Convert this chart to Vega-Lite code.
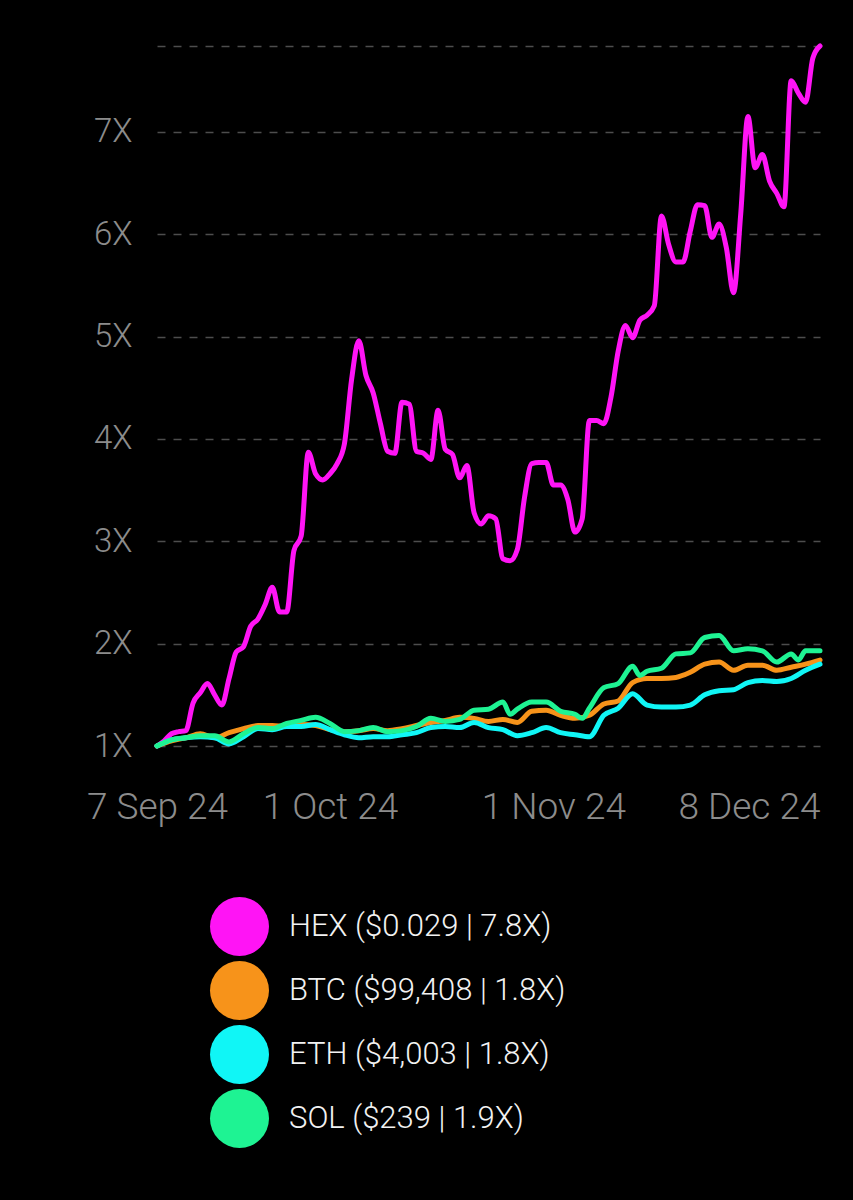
{
  "$schema": "https://vega.github.io/schema/vega-lite/v6.json",
  "autosize": {"type": "none"},
  "width": 663,
  "height": 700,
  "padding": {"left": 157, "top": 46, "right": 33, "bottom": 454},
  "background": "#000000",
  "config": {"view": {"stroke": null}, "font": "Roboto"},
  "data": {"values": [
    {"date":"2024-09-07T00:00","asset":"HEX","value":1.00},
    {"date":"2024-09-08T00:00","asset":"HEX","value":1.05},
    {"date":"2024-09-09T00:00","asset":"HEX","value":1.12},
    {"date":"2024-09-10T00:00","asset":"HEX","value":1.14},
    {"date":"2024-09-11T00:00","asset":"HEX","value":1.15},
    {"date":"2024-09-12T00:00","asset":"HEX","value":1.42},
    {"date":"2024-09-13T00:00","asset":"HEX","value":1.52},
    {"date":"2024-09-14T00:00","asset":"HEX","value":1.61},
    {"date":"2024-09-15T00:00","asset":"HEX","value":1.50},
    {"date":"2024-09-16T00:00","asset":"HEX","value":1.40},
    {"date":"2024-09-17T00:00","asset":"HEX","value":1.66},
    {"date":"2024-09-18T00:00","asset":"HEX","value":1.92},
    {"date":"2024-09-19T00:00","asset":"HEX","value":1.97},
    {"date":"2024-09-20T00:00","asset":"HEX","value":2.17},
    {"date":"2024-09-21T00:00","asset":"HEX","value":2.24},
    {"date":"2024-09-22T00:00","asset":"HEX","value":2.38},
    {"date":"2024-09-23T00:00","asset":"HEX","value":2.55},
    {"date":"2024-09-24T00:00","asset":"HEX","value":2.31},
    {"date":"2024-09-25T00:00","asset":"HEX","value":2.31},
    {"date":"2024-09-26T00:00","asset":"HEX","value":2.91},
    {"date":"2024-09-27T00:00","asset":"HEX","value":3.05},
    {"date":"2024-09-28T00:00","asset":"HEX","value":3.87},
    {"date":"2024-09-29T00:00","asset":"HEX","value":3.66},
    {"date":"2024-09-30T00:00","asset":"HEX","value":3.60},
    {"date":"2024-10-01T00:00","asset":"HEX","value":3.66},
    {"date":"2024-10-02T00:00","asset":"HEX","value":3.76},
    {"date":"2024-10-03T00:00","asset":"HEX","value":3.95},
    {"date":"2024-10-04T00:00","asset":"HEX","value":4.58},
    {"date":"2024-10-05T00:00","asset":"HEX","value":4.96},
    {"date":"2024-10-06T00:00","asset":"HEX","value":4.62},
    {"date":"2024-10-07T00:00","asset":"HEX","value":4.45},
    {"date":"2024-10-08T00:00","asset":"HEX","value":4.15},
    {"date":"2024-10-09T00:00","asset":"HEX","value":3.88},
    {"date":"2024-10-10T00:00","asset":"HEX","value":3.86},
    {"date":"2024-10-11T00:00","asset":"HEX","value":4.36},
    {"date":"2024-10-12T00:00","asset":"HEX","value":4.34},
    {"date":"2024-10-13T00:00","asset":"HEX","value":3.88},
    {"date":"2024-10-14T00:00","asset":"HEX","value":3.86},
    {"date":"2024-10-15T00:00","asset":"HEX","value":3.80},
    {"date":"2024-10-16T00:00","asset":"HEX","value":4.28},
    {"date":"2024-10-17T00:00","asset":"HEX","value":3.90},
    {"date":"2024-10-18T00:00","asset":"HEX","value":3.85},
    {"date":"2024-10-19T00:00","asset":"HEX","value":3.62},
    {"date":"2024-10-20T00:00","asset":"HEX","value":3.74},
    {"date":"2024-10-21T00:00","asset":"HEX","value":3.28},
    {"date":"2024-10-22T00:00","asset":"HEX","value":3.17},
    {"date":"2024-10-23T00:00","asset":"HEX","value":3.25},
    {"date":"2024-10-24T00:00","asset":"HEX","value":3.22},
    {"date":"2024-10-25T00:00","asset":"HEX","value":2.83},
    {"date":"2024-10-26T00:00","asset":"HEX","value":2.81},
    {"date":"2024-10-27T00:00","asset":"HEX","value":2.92},
    {"date":"2024-10-28T00:00","asset":"HEX","value":3.43},
    {"date":"2024-10-29T00:00","asset":"HEX","value":3.76},
    {"date":"2024-10-30T00:00","asset":"HEX","value":3.77},
    {"date":"2024-10-31T00:00","asset":"HEX","value":3.77},
    {"date":"2024-11-01T00:00","asset":"HEX","value":3.55},
    {"date":"2024-11-02T00:00","asset":"HEX","value":3.55},
    {"date":"2024-11-03T00:00","asset":"HEX","value":3.41},
    {"date":"2024-11-04T00:00","asset":"HEX","value":3.09},
    {"date":"2024-11-05T00:00","asset":"HEX","value":3.22},
    {"date":"2024-11-06T00:00","asset":"HEX","value":4.18},
    {"date":"2024-11-07T00:00","asset":"HEX","value":4.18},
    {"date":"2024-11-08T00:00","asset":"HEX","value":4.15},
    {"date":"2024-11-09T00:00","asset":"HEX","value":4.41},
    {"date":"2024-11-10T00:00","asset":"HEX","value":4.86},
    {"date":"2024-11-11T00:00","asset":"HEX","value":5.11},
    {"date":"2024-11-12T00:00","asset":"HEX","value":4.99},
    {"date":"2024-11-13T00:00","asset":"HEX","value":5.16},
    {"date":"2024-11-14T00:00","asset":"HEX","value":5.21},
    {"date":"2024-11-15T00:00","asset":"HEX","value":5.30},
    {"date":"2024-11-16T00:00","asset":"HEX","value":6.18},
    {"date":"2024-11-17T00:00","asset":"HEX","value":5.90},
    {"date":"2024-11-18T00:00","asset":"HEX","value":5.73},
    {"date":"2024-11-19T00:00","asset":"HEX","value":5.73},
    {"date":"2024-11-20T00:00","asset":"HEX","value":6.03},
    {"date":"2024-11-21T00:00","asset":"HEX","value":6.29},
    {"date":"2024-11-22T00:00","asset":"HEX","value":6.28},
    {"date":"2024-11-23T00:00","asset":"HEX","value":5.97},
    {"date":"2024-11-24T00:00","asset":"HEX","value":6.10},
    {"date":"2024-11-25T00:00","asset":"HEX","value":5.87},
    {"date":"2024-11-26T00:00","asset":"HEX","value":5.43},
    {"date":"2024-11-27T00:00","asset":"HEX","value":6.20},
    {"date":"2024-11-28T00:00","asset":"HEX","value":7.15},
    {"date":"2024-11-29T00:00","asset":"HEX","value":6.65},
    {"date":"2024-11-30T00:00","asset":"HEX","value":6.78},
    {"date":"2024-12-01T00:00","asset":"HEX","value":6.52},
    {"date":"2024-12-02T00:00","asset":"HEX","value":6.40},
    {"date":"2024-12-03T00:00","asset":"HEX","value":6.27},
    {"date":"2024-12-04T00:00","asset":"HEX","value":7.50},
    {"date":"2024-12-05T00:00","asset":"HEX","value":7.38},
    {"date":"2024-12-06T00:00","asset":"HEX","value":7.29},
    {"date":"2024-12-07T00:00","asset":"HEX","value":7.72},
    {"date":"2024-12-08T00:00","asset":"HEX","value":7.84},

    {"date":"2024-09-07T00:00","asset":"BTC","value":1.00},
    {"date":"2024-09-09T00:00","asset":"BTC","value":1.05},
    {"date":"2024-09-11T00:00","asset":"BTC","value":1.08},
    {"date":"2024-09-13T00:00","asset":"BTC","value":1.12},
    {"date":"2024-09-15T00:00","asset":"BTC","value":1.08},
    {"date":"2024-09-17T00:00","asset":"BTC","value":1.13},
    {"date":"2024-09-19T00:00","asset":"BTC","value":1.17},
    {"date":"2024-09-21T00:00","asset":"BTC","value":1.20},
    {"date":"2024-09-23T00:00","asset":"BTC","value":1.20},
    {"date":"2024-09-25T00:00","asset":"BTC","value":1.19},
    {"date":"2024-09-27T00:00","asset":"BTC","value":1.21},
    {"date":"2024-09-29T00:00","asset":"BTC","value":1.20},
    {"date":"2024-10-01T00:00","asset":"BTC","value":1.16},
    {"date":"2024-10-03T00:00","asset":"BTC","value":1.14},
    {"date":"2024-10-05T00:00","asset":"BTC","value":1.15},
    {"date":"2024-10-07T00:00","asset":"BTC","value":1.17},
    {"date":"2024-10-09T00:00","asset":"BTC","value":1.15},
    {"date":"2024-10-11T00:00","asset":"BTC","value":1.17},
    {"date":"2024-10-13T00:00","asset":"BTC","value":1.20},
    {"date":"2024-10-15T00:00","asset":"BTC","value":1.23},
    {"date":"2024-10-17T00:00","asset":"BTC","value":1.25},
    {"date":"2024-10-19T00:00","asset":"BTC","value":1.28},
    {"date":"2024-10-21T00:00","asset":"BTC","value":1.27},
    {"date":"2024-10-23T00:00","asset":"BTC","value":1.24},
    {"date":"2024-10-25T00:00","asset":"BTC","value":1.26},
    {"date":"2024-10-27T00:00","asset":"BTC","value":1.23},
    {"date":"2024-10-29T00:00","asset":"BTC","value":1.34},
    {"date":"2024-10-31T00:00","asset":"BTC","value":1.35},
    {"date":"2024-11-02T00:00","asset":"BTC","value":1.30},
    {"date":"2024-11-04T00:00","asset":"BTC","value":1.27},
    {"date":"2024-11-06T00:00","asset":"BTC","value":1.30},
    {"date":"2024-11-08T00:00","asset":"BTC","value":1.41},
    {"date":"2024-11-10T00:00","asset":"BTC","value":1.44},
    {"date":"2024-11-12T00:00","asset":"BTC","value":1.62},
    {"date":"2024-11-14T00:00","asset":"BTC","value":1.66},
    {"date":"2024-11-16T00:00","asset":"BTC","value":1.66},
    {"date":"2024-11-18T00:00","asset":"BTC","value":1.67},
    {"date":"2024-11-20T00:00","asset":"BTC","value":1.72},
    {"date":"2024-11-22T00:00","asset":"BTC","value":1.80},
    {"date":"2024-11-24T00:00","asset":"BTC","value":1.82},
    {"date":"2024-11-26T00:00","asset":"BTC","value":1.74},
    {"date":"2024-11-28T00:00","asset":"BTC","value":1.79},
    {"date":"2024-11-30T00:00","asset":"BTC","value":1.79},
    {"date":"2024-12-02T00:00","asset":"BTC","value":1.74},
    {"date":"2024-12-04T00:00","asset":"BTC","value":1.77},
    {"date":"2024-12-06T00:00","asset":"BTC","value":1.80},
    {"date":"2024-12-08T00:00","asset":"BTC","value":1.84},

    {"date":"2024-09-07T00:00","asset":"ETH","value":1.00},
    {"date":"2024-09-09T00:00","asset":"ETH","value":1.06},
    {"date":"2024-09-11T00:00","asset":"ETH","value":1.08},
    {"date":"2024-09-13T00:00","asset":"ETH","value":1.09},
    {"date":"2024-09-15T00:00","asset":"ETH","value":1.08},
    {"date":"2024-09-17T00:00","asset":"ETH","value":1.02},
    {"date":"2024-09-19T00:00","asset":"ETH","value":1.09},
    {"date":"2024-09-21T00:00","asset":"ETH","value":1.17},
    {"date":"2024-09-23T00:00","asset":"ETH","value":1.16},
    {"date":"2024-09-25T00:00","asset":"ETH","value":1.19},
    {"date":"2024-09-27T00:00","asset":"ETH","value":1.19},
    {"date":"2024-09-29T00:00","asset":"ETH","value":1.21},
    {"date":"2024-10-01T00:00","asset":"ETH","value":1.16},
    {"date":"2024-10-03T00:00","asset":"ETH","value":1.11},
    {"date":"2024-10-05T00:00","asset":"ETH","value":1.08},
    {"date":"2024-10-07T00:00","asset":"ETH","value":1.09},
    {"date":"2024-10-09T00:00","asset":"ETH","value":1.09},
    {"date":"2024-10-11T00:00","asset":"ETH","value":1.11},
    {"date":"2024-10-13T00:00","asset":"ETH","value":1.13},
    {"date":"2024-10-15T00:00","asset":"ETH","value":1.18},
    {"date":"2024-10-17T00:00","asset":"ETH","value":1.19},
    {"date":"2024-10-19T00:00","asset":"ETH","value":1.18},
    {"date":"2024-10-21T00:00","asset":"ETH","value":1.23},
    {"date":"2024-10-23T00:00","asset":"ETH","value":1.18},
    {"date":"2024-10-25T00:00","asset":"ETH","value":1.16},
    {"date":"2024-10-27T00:00","asset":"ETH","value":1.10},
    {"date":"2024-10-29T00:00","asset":"ETH","value":1.13},
    {"date":"2024-10-31T00:00","asset":"ETH","value":1.18},
    {"date":"2024-11-02T00:00","asset":"ETH","value":1.13},
    {"date":"2024-11-04T00:00","asset":"ETH","value":1.11},
    {"date":"2024-11-06T00:00","asset":"ETH","value":1.09},
    {"date":"2024-11-08T00:00","asset":"ETH","value":1.30},
    {"date":"2024-11-10T00:00","asset":"ETH","value":1.37},
    {"date":"2024-11-12T00:00","asset":"ETH","value":1.51},
    {"date":"2024-11-14T00:00","asset":"ETH","value":1.40},
    {"date":"2024-11-16T00:00","asset":"ETH","value":1.38},
    {"date":"2024-11-18T00:00","asset":"ETH","value":1.38},
    {"date":"2024-11-20T00:00","asset":"ETH","value":1.40},
    {"date":"2024-11-22T00:00","asset":"ETH","value":1.50},
    {"date":"2024-11-24T00:00","asset":"ETH","value":1.54},
    {"date":"2024-11-26T00:00","asset":"ETH","value":1.55},
    {"date":"2024-11-28T00:00","asset":"ETH","value":1.62},
    {"date":"2024-11-30T00:00","asset":"ETH","value":1.64},
    {"date":"2024-12-02T00:00","asset":"ETH","value":1.63},
    {"date":"2024-12-04T00:00","asset":"ETH","value":1.66},
    {"date":"2024-12-06T00:00","asset":"ETH","value":1.74},
    {"date":"2024-12-08T00:00","asset":"ETH","value":1.80},

    {"date":"2024-09-07T00:00","asset":"SOL","value":1.00},
    {"date":"2024-09-09T00:00","asset":"SOL","value":1.06},
    {"date":"2024-09-11T00:00","asset":"SOL","value":1.08},
    {"date":"2024-09-13T00:00","asset":"SOL","value":1.10},
    {"date":"2024-09-15T00:00","asset":"SOL","value":1.10},
    {"date":"2024-09-17T00:00","asset":"SOL","value":1.04},
    {"date":"2024-09-19T00:00","asset":"SOL","value":1.12},
    {"date":"2024-09-21T00:00","asset":"SOL","value":1.18},
    {"date":"2024-09-23T00:00","asset":"SOL","value":1.17},
    {"date":"2024-09-25T00:00","asset":"SOL","value":1.22},
    {"date":"2024-09-27T00:00","asset":"SOL","value":1.25},
    {"date":"2024-09-29T00:00","asset":"SOL","value":1.28},
    {"date":"2024-10-01T00:00","asset":"SOL","value":1.22},
    {"date":"2024-10-03T00:00","asset":"SOL","value":1.14},
    {"date":"2024-10-05T00:00","asset":"SOL","value":1.15},
    {"date":"2024-10-07T00:00","asset":"SOL","value":1.18},
    {"date":"2024-10-09T00:00","asset":"SOL","value":1.14},
    {"date":"2024-10-11T00:00","asset":"SOL","value":1.15},
    {"date":"2024-10-13T00:00","asset":"SOL","value":1.19},
    {"date":"2024-10-15T00:00","asset":"SOL","value":1.27},
    {"date":"2024-10-17T00:00","asset":"SOL","value":1.24},
    {"date":"2024-10-19T00:00","asset":"SOL","value":1.26},
    {"date":"2024-10-21T00:00","asset":"SOL","value":1.35},
    {"date":"2024-10-23T00:00","asset":"SOL","value":1.36},
    {"date":"2024-10-25T00:00","asset":"SOL","value":1.43},
    {"date":"2024-10-26T00:00","asset":"SOL","value":1.31},
    {"date":"2024-10-27T00:00","asset":"SOL","value":1.36},
    {"date":"2024-10-29T00:00","asset":"SOL","value":1.43},
    {"date":"2024-10-31T00:00","asset":"SOL","value":1.43},
    {"date":"2024-11-02T00:00","asset":"SOL","value":1.34},
    {"date":"2024-11-04T00:00","asset":"SOL","value":1.31},
    {"date":"2024-11-05T00:00","asset":"SOL","value":1.27},
    {"date":"2024-11-06T00:00","asset":"SOL","value":1.37},
    {"date":"2024-11-08T00:00","asset":"SOL","value":1.57},
    {"date":"2024-11-10T00:00","asset":"SOL","value":1.61},
    {"date":"2024-11-12T00:00","asset":"SOL","value":1.78},
    {"date":"2024-11-13T00:00","asset":"SOL","value":1.69},
    {"date":"2024-11-14T00:00","asset":"SOL","value":1.73},
    {"date":"2024-11-16T00:00","asset":"SOL","value":1.76},
    {"date":"2024-11-18T00:00","asset":"SOL","value":1.90},
    {"date":"2024-11-20T00:00","asset":"SOL","value":1.91},
    {"date":"2024-11-22T00:00","asset":"SOL","value":2.06},
    {"date":"2024-11-24T00:00","asset":"SOL","value":2.08},
    {"date":"2024-11-26T00:00","asset":"SOL","value":1.93},
    {"date":"2024-11-28T00:00","asset":"SOL","value":1.95},
    {"date":"2024-11-30T00:00","asset":"SOL","value":1.93},
    {"date":"2024-12-02T00:00","asset":"SOL","value":1.82},
    {"date":"2024-12-04T00:00","asset":"SOL","value":1.90},
    {"date":"2024-12-05T00:00","asset":"SOL","value":1.84},
    {"date":"2024-12-06T00:00","asset":"SOL","value":1.93},
    {"date":"2024-12-08T00:00","asset":"SOL","value":1.93}
  ]},
  "mark": {"type": "line", "interpolate": "monotone", "strokeWidth": 5, "strokeCap": "round", "strokeJoin": "round"},
  "encoding": {
    "x": {
      "field": "date", "type": "temporal",
      "scale": {"domain": [{"year": 2024, "month": 9, "date": 7}, {"year": 2024, "month": 12, "date": 8}]},
      "axis": {
        "title": null,
        "values": [{"year": 2024, "month": 9, "date": 7}, {"year": 2024, "month": 10, "date": 1}, {"year": 2024, "month": 11, "date": 1}, {"year": 2024, "month": 12, "date": 8}],
        "format": "%-d %b %y",
        "labelFontSize": 37, "labelFontWeight": 300, "labelColor": "#8c8c8c",
        "labelPadding": 43, "domain": false, "ticks": false, "tickSize": 0, "grid": false,
        "labelFlush": false, "labelOverlap": false, "labelBound": false,
        "labelAlign": {"condition": {"test": "datum.value > datetime(2024, 11, 5)", "value": "right"}, "value": "center"}
      }
    },
    "y": {
      "field": "value", "type": "quantitative",
      "scale": {"domain": [1, 7.84], "nice": false, "zero": false},
      "axis": {
        "title": null,
        "values": [1, 2, 3, 4, 5, 6, 7, 7.84],
        "labelExpr": "datum.value > 7.5 ? '' : datum.value + 'X'",
        "labelFontSize": 33, "labelFontWeight": 300, "labelColor": "#8c8c8c",
        "labelPadding": 25, "domain": false, "ticks": false, "tickSize": 0,
        "grid": true, "gridColor": "#4d4d4d", "gridDash": [8, 8], "gridWidth": 1.5
      }
    },
    "color": {
      "field": "asset", "type": "nominal",
      "scale": {"domain": ["HEX", "BTC", "ETH", "SOL"], "range": ["#ff14f5", "#f7931a", "#10f6f6", "#1ef393"]},
      "legend": {
        "title": null, "orient": "none", "legendX": 53, "legendY": 851, "direction": "vertical",
        "symbolType": "circle", "symbolSize": 3480, "symbolStrokeWidth": 0,
        "labelFontSize": 31, "labelColor": "#f2f2f2", "labelFontWeight": 300,
        "labelOffset": 20, "rowPadding": 5, "padding": 0, "labelLimit": 0,
        "labelExpr": "datum.label == 'HEX' ? 'HEX ($0.029 | 7.8X)' : datum.label == 'BTC' ? 'BTC ($99,408 | 1.8X)' : datum.label == 'ETH' ? 'ETH ($4,003 | 1.8X)' : 'SOL ($239 | 1.9X)'",
        "encode": {"symbols": {"update": {"fill": {"scale": "color", "field": "value"}, "fillOpacity": {"value": 1}, "strokeWidth": {"value": 0}}}}
      }
    }
  }
}
